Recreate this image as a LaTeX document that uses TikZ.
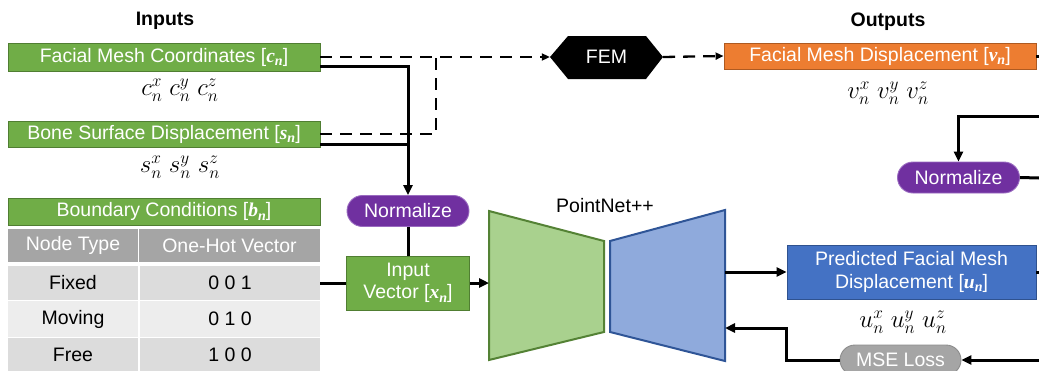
\documentclass[tikz,border=0pt]{standalone}
\usepackage{fontspec}
\setmainfont{Liberation Sans}
\newfontfamily\bvfont{Liberation Serif}
\newcommand{\bv}[1]{{\bvfont\bfseries\itshape #1\raisebox{-3.5pt}{\fontsize{14}{14}\selectfont n}}}
\usepackage{amsmath}
\usetikzlibrary{arrows.meta}
\definecolor{gfill}{HTML}{70AD47}
\definecolor{gdraw}{HTML}{507E32}
\definecolor{ofill}{HTML}{ED7D31}
\definecolor{odraw}{HTML}{AE5A21}
\definecolor{bfill}{HTML}{4472C4}
\definecolor{bdraw}{HTML}{2F528F}
\definecolor{pfill}{HTML}{7030A0}
\definecolor{pdraw}{HTML}{9A6BC0}
\definecolor{mfill}{HTML}{A5A5A5}
\definecolor{mdraw}{HTML}{8C8C8C}
\definecolor{encfill}{HTML}{A9D18E}
\definecolor{encdraw}{HTML}{548235}
\definecolor{decfill}{HTML}{8FAADC}
\definecolor{decdraw}{HTML}{2F5597}
\definecolor{rowA}{HTML}{DCDCDC}
\definecolor{rowB}{HTML}{EDEDED}
\begin{document}
\begin{tikzpicture}[x=1pt,y=-1pt,
  every node/.style={font=\fontsize{19.5}{22.5}\selectfont, inner sep=0pt},
  gbox/.style={draw=gdraw, fill=gfill, text=white, line width=0.9pt, minimum width=312pt, minimum height=28pt},
  obox/.style={draw=odraw, fill=ofill, text=white, line width=0.9pt, minimum width=312pt, minimum height=26pt},
  bbox/.style={draw=bdraw, fill=bfill, text=white, line width=0.9pt, minimum width=249pt, minimum height=54pt, align=center},
  pill/.style={draw=pdraw, fill=pfill, text=white, line width=0.9pt, minimum width=122pt, minimum height=31pt, rounded corners=15.5pt},
  msepill/.style={draw=mdraw, fill=mfill, text=white, line width=0.9pt, minimum width=121pt, minimum height=30pt, rounded corners=15pt},
  hcell/.style={fill=mfill, text=white, minimum height=33pt},
  rcell/.style={text=black},
  mlbl/.style={font=\fontsize{23}{26}\selectfont},
  ttl/.style={font=\fontsize{19.5}{22.5}\selectfont\bfseries},
  sline/.style={line width=3pt, draw=black},
  dline/.style={line width=2.3pt, draw=black, dash pattern=on 12pt off 8pt},
  sarrow/.style={-{Triangle[length=10pt,width=9pt]}},
  darrow/.style={-{Triangle[length=8pt,width=7pt]}}
]
\useasboundingbox (0,0) rectangle (1039,370);

% titles
\node[ttl] (tin) at (165,21) {Inputs};
\node[ttl] (tout) at (888,22) {Outputs};

% input boxes
\node[gbox] (fmc) at (164,57) {Facial Mesh Coordinates [\bv{c}]};
\node[mlbl] (cxyz) at (180,90) {$c_n^x\; c_n^y\; c_n^z$};
\node[gbox, minimum height=26pt] (bsd) at (164,134) {Bone Surface Displacement [\bv{s}]};
\node[mlbl] (sxyz) at (180,167) {$s_n^x\; s_n^y\; s_n^z$};

% table
\node[gbox, minimum height=27pt] (bc) at (164,211.5) {Boundary Conditions [\bv{b}]};
\node[hcell, minimum width=130pt] (h1) at (73,245.5) {Node Type};
\node[hcell, minimum width=181pt] (h2) at (229.5,245.5) {One-Hot Vector};
\node[rcell, fill=rowA, minimum width=130pt, minimum height=34pt] (r1a) at (73,283) {Fixed};
\node[rcell, fill=rowA, minimum width=180pt, minimum height=34pt] (r1b) at (230,283) {0 0 1};
\node[rcell, fill=rowB, minimum width=130pt, minimum height=36pt] (r2a) at (73,319) {Moving};
\node[rcell, fill=rowB, minimum width=180pt, minimum height=36pt] (r2b) at (230,319) {0 1 0};
\node[rcell, fill=rowA, minimum width=130pt, minimum height=33pt] (r3a) at (73,354.5) {Free};
\node[rcell, fill=rowA, minimum width=180pt, minimum height=33pt] (r3b) at (230,354.5) {1 0 0};

% normalize + input vector
\node[pill] (normL) at (408,211) {Normalize};
\node[gbox, minimum width=123pt, minimum height=54pt, align=center] (inp) at (408,283) {Input\\Vector [\bv{x}]};

% FEM hexagon
\fill[black] (550,57) -- (568,36) -- (646,36) -- (663,57) -- (646,79) -- (568,79) -- cycle;
\node[text=white, minimum width=113pt, minimum height=43pt] (fem) at (606.5,57) {FEM};

% outputs
\node[obox] (ofm) at (880,56) {Facial Mesh Displacement [\bv{v}]};
\node[mlbl] (vxyz) at (888,93) {$v_n^x\; v_n^y\; v_n^z$};
\node[pill] (normR) at (958.5,177.5) {Normalize};

% PointNet++
\draw[fill=encfill, draw=encdraw, line width=2pt] (489,211) -- (604,241) -- (604,332) -- (489,360) -- cycle;
\draw[fill=decfill, draw=decdraw, line width=2pt] (610,241) -- (725,210) -- (725,361) -- (610,332) -- cycle;
\node (pn) at (605,206) {PointNet++};

\node[bbox] (pred) at (911.5,272) {Predicted Facial Mesh\\Displacement [\bv{u}]};
\node[mlbl] (uxyz) at (903,322) {$u_n^x\; u_n^y\; u_n^z$};
\node[msepill] (mse) at (900.5,360) {MSE Loss};

% coordinates
\coordinate (jd) at (436,57);
\coordinate (js) at (408,144);
\coordinate (encin) at (489,283);
\coordinate (decout) at (725,272);
\coordinate (decin) at (725,328);
\coordinate (predR) at (1039,272);
\coordinate (mseR) at (1039,360);
\coordinate (oR) at (1039,56);
\coordinate (nR1) at (1039,116);
\coordinate (nR2) at (1039,178);

% connectors
\draw[dline, darrow] (fmc.east) -- (fem.west);
\draw[dline] (bsd.east) -| (jd);
\draw[dline, darrow] (fem.east) -- (ofm.west);
\draw[sline, sarrow] ([yshift=-9pt]fmc.east) -| (normL.north);
\draw[sline] ([yshift=-10pt]bsd.east) -- (js);
\draw[sline] (normL.south) -- (inp.north);
\draw[sline] (r1b.east) -- (inp.west);
\draw[sline, sarrow] (inp.east) -- (encin);
\draw[sline, sarrow] (decout) -- (pred.west);
\draw[sline] (pred.east) -- (predR);
\draw[sline, sarrow] (mseR) -- (mse.east);
\draw[sline, sarrow] (mse.west) -- ++(-53,0) |- (decin);
\draw[sline] (ofm.east) -- (oR);
\draw[sline, sarrow] (nR1) -| (normR.north);
\draw[sline] (normR.east) -- (nR2);
\end{tikzpicture}
\end{document}
